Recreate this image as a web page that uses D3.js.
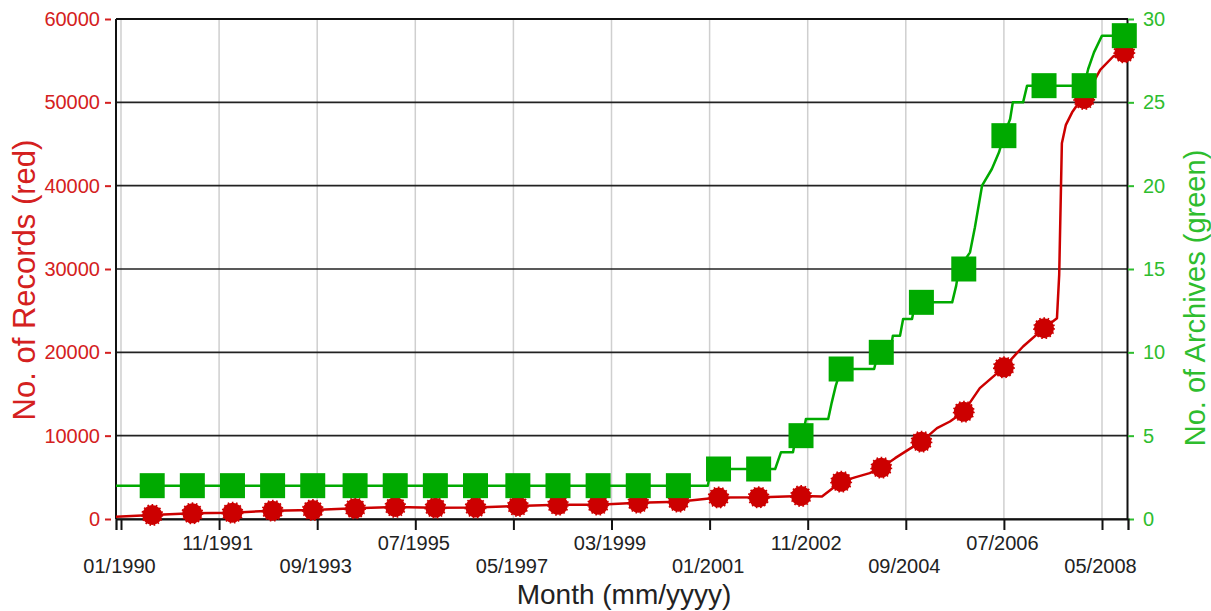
<!DOCTYPE html>
<html>
<head>
<meta charset="utf-8">
<script src="https://cdn.jsdelivr.net/npm/d3@7"></script>
<style>
  html, body { margin: 0; padding: 0; background: #fff; }
  svg { display: block; font-family: "Liberation Sans", Arial, sans-serif; }
</style>
</head>
<body>
<svg id="chart" width="1211" height="611"></svg>
<script>
// ---- Data (months counted from 01/1990 = 0) ----
const tickMonths = [0, 22, 44, 66, 88, 110, 132, 154, 176, 198, 220];
const tickLabels = ["01/1990", "11/1991", "09/1993", "07/1995", "05/1997", "03/1999",
                    "01/2001", "11/2002", "09/2004", "07/2006", "05/2008"];
const recordTicks = [0, 10000, 20000, 30000, 40000, 50000, 60000];
const archiveTicks = [0, 5, 10, 15, 20, 25, 30];

// marker positions (months)
const markerMonths = [7, 16, 25, 34, 43, 52.5, 61.5, 70.5, 79.5, 89, 98, 107, 116, 125,
                      134, 143, 152.5, 161.5, 170.5, 179.5, 189, 198, 207, 216, 225];
const recordMarkers = [480, 680, 760, 1000, 1080, 1280, 1450, 1360, 1380, 1560, 1700, 1720,
                       1960, 2080, 2580, 2600, 2760, 4480, 6160, 9280, 12880, 18200, 22900,
                       50400, 56000];
const archiveMarkers = [2, 2, 2, 2, 2, 2, 2, 2, 2, 2, 2, 2, 2, 2,
                        3, 3, 5, 9, 10, 13, 15, 23, 26, 26, 29];

// line vertices [month, value]
const recordLine = [
  [-1.12, 280], [7, 480], [16, 680], [25, 760], [34, 1000], [43, 1080], [52.5, 1280],
  [61.5, 1450], [70.5, 1360], [79.5, 1380], [89, 1560], [98, 1700], [107, 1720],
  [116, 1960], [125, 2080], [134, 2580], [143, 2600], [152.5, 2760], [157.2, 2700],
  [161.5, 4480], [164.6, 5000], [167.9, 5500], [170.5, 6160], [173.6, 7300],
  [176.5, 8300], [179.5, 9280], [183.0, 10900], [185.9, 11700], [189, 12880],
  [192.6, 15700], [198, 18200], [200.9, 19900], [202.3, 20700], [207, 22900],
  [209.9, 24100], [210.4, 29300], [210.8, 39800], [211.0, 45100], [211.9, 47300],
  [213.3, 48800], [214.6, 49800], [216, 50400], [219.6, 53900], [222.5, 55500], [225, 56000]
];
const archiveLine = [
  [-1.12, 2], [131.6, 2], [132.3, 3], [146.7, 3], [148.0, 4], [150.7, 4], [151.4, 5],
  [152.9, 5], [153.6, 6], [158.6, 6], [159.4, 7], [160.3, 8], [161.5, 9], [168.9, 9],
  [169.8, 10], [172.5, 10], [173.1, 11], [174.7, 11], [175.4, 12], [177.4, 12],
  [178.1, 13], [186.4, 13], [187.3, 14], [187.9, 15], [190.4, 16], [191.5, 17.5],
  [193.1, 20], [195.3, 21], [196.9, 22], [198, 23], [199.4, 24], [200.0, 25],
  [202.3, 25], [203.2, 26], [216, 26], [216.9, 27], [218.2, 28], [220.0, 29], [225, 29]
];

// ---- Layout ----
const L = 116, R = 1128, T = 19, B = 519;
const RED = "#cc0000", GREEN = "#00aa00";
const RED_TXT = "#d42020", GREEN_TXT = "#2ebd2e";
const FONT = "Liberation Sans, Arial, sans-serif";

const svg = d3.select("#chart");
const x = d3.scaleLinear().domain([-1.12, 225.83]).range([L, R]);
const yL = d3.scaleLinear().domain([0, 60000]).range([B, T]);
const yR = d3.scaleLinear().domain([0, 30]).range([B, T]);

// vertical grid (gray)
svg.append("g").selectAll("line").data(tickMonths).join("line")
  .attr("x1", d => x(d)).attr("x2", d => x(d)).attr("y1", T).attr("y2", B)
  .attr("stroke", "#cfcfcf").attr("stroke-width", 1.5);

// horizontal grid (black)
svg.append("g").selectAll("line").data(recordTicks).join("line")
  .attr("x1", L).attr("x2", R).attr("y1", d => yL(d)).attr("y2", d => yL(d))
  .attr("stroke", "#222").attr("stroke-width", 1.6);

// frame left/right
svg.append("line").attr("x1", L).attr("x2", L).attr("y1", T).attr("y2", B)
  .attr("stroke", "#111").attr("stroke-width", 2);
svg.append("line").attr("x1", R - 0.5).attr("x2", R - 0.5).attr("y1", T).attr("y2", B)
  .attr("stroke", "#111").attr("stroke-width", 2);

// left axis
const axL = svg.append("g").attr("transform", `translate(${L - 5},0)`)
  .call(d3.axisLeft(yL).tickValues(recordTicks).tickSize(6).tickPadding(5).tickFormat(d3.format("d")));
axL.select(".domain").remove();
axL.selectAll(".tick line").attr("stroke", RED_TXT).attr("stroke-width", 2);
axL.selectAll(".tick text").attr("fill", RED_TXT).style("font-size", "20px")
  .style("font-family", FONT);

// right axis
const axR = svg.append("g").attr("transform", `translate(${R},0)`)
  .call(d3.axisRight(yR).tickValues(archiveTicks).tickSize(6).tickPadding(9));
axR.select(".domain").remove();
axR.selectAll(".tick line").attr("stroke", GREEN_TXT).attr("stroke-width", 2);
axR.selectAll(".tick text").attr("fill", GREEN_TXT).style("font-size", "20px")
  .style("font-family", FONT);

// bottom axis
const axB = svg.append("g").attr("transform", `translate(0,${B})`)
  .call(d3.axisBottom(x).tickValues(tickMonths).tickSize(11)
        .tickFormat((d, i) => tickLabels[i]));
axB.select(".domain").attr("stroke", "#111").attr("stroke-width", 2.2);
axB.selectAll(".tick line").attr("stroke", "#111").attr("stroke-width", 2);
axB.selectAll(".tick text")
  .attr("fill", "#222").style("font-size", "20px")
  .style("font-family", FONT)
  .attr("dy", null)
  .attr("x", -2)
  .attr("y", (d, i) => i % 2 === 0 ? 54 : 31);

// top border
svg.append("line").attr("x1", L).attr("x2", R).attr("y1", T).attr("y2", T)
  .attr("stroke", "#111").attr("stroke-width", 2);

// red line + markers
svg.append("path").datum(recordLine)
  .attr("d", d3.line().x(d => x(d[0])).y(d => yL(d[1])))
  .attr("fill", "none").attr("stroke", RED).attr("stroke-width", 2.5)
  .attr("stroke-linejoin", "round");

svg.append("g").selectAll("circle").data(markerMonths).join("circle")
  .attr("cx", d => x(d)).attr("cy", (d, i) => yL(recordMarkers[i]))
  .attr("r", 10).attr("fill", RED).attr("stroke", RED)
  .attr("stroke-width", 2).attr("stroke-dasharray", "1.6,2.6");

// green line + markers
svg.append("path").datum(archiveLine)
  .attr("d", d3.line().x(d => x(d[0])).y(d => yR(d[1])))
  .attr("fill", "none").attr("stroke", GREEN).attr("stroke-width", 2.5)
  .attr("stroke-linejoin", "round");

const S = 25;
svg.append("g").selectAll("rect").data(markerMonths).join("rect")
  .attr("x", d => x(d) - S / 2).attr("y", (d, i) => yR(archiveMarkers[i]) - S / 2)
  .attr("width", S).attr("height", S).attr("fill", GREEN);

// titles
svg.append("text").attr("transform", `translate(${(L + R) / 2 + 2},604)`)
  .attr("text-anchor", "middle").attr("fill", "#222").style("font-size", "28px")
  .text("Month (mm/yyyy)");
svg.append("text").attr("transform", `translate(35,280) rotate(-90)`)
  .attr("text-anchor", "middle").attr("fill", RED_TXT).style("font-size", "31px")
  .text("No. of Records (red)");
svg.append("text").attr("transform", `translate(1205,298) rotate(-90)`)
  .attr("text-anchor", "middle").attr("fill", GREEN_TXT).style("font-size", "29px")
  .text("No. of Archives (green)");
</script>
</body>
</html>
